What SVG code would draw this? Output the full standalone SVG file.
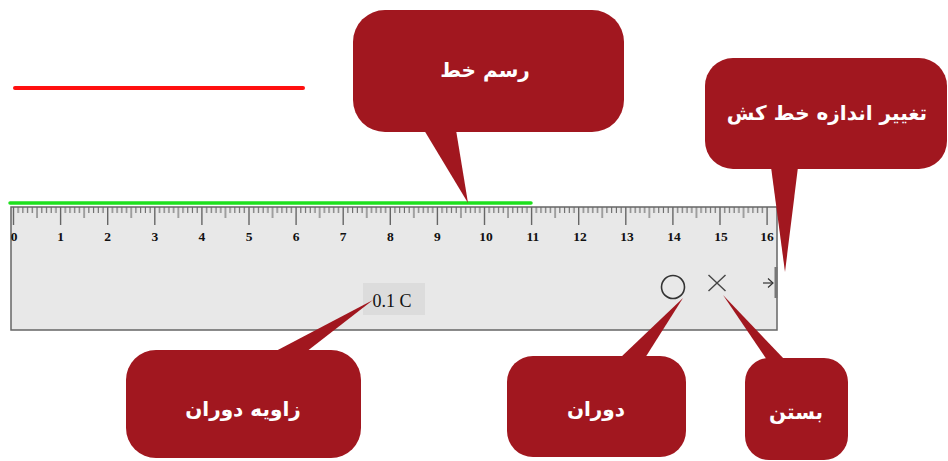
<svg xmlns="http://www.w3.org/2000/svg" width="948" height="461" viewBox="0 0 948 461">
<style>
.callout{fill:#A1171F}
.ctext{fill:#fff;font-family:"DejaVu Sans",sans-serif;font-weight:bold;font-size:20px;text-anchor:middle;dominant-baseline:central}
.num{font-family:"Liberation Serif",serif;font-weight:bold;font-size:13.5px;text-anchor:middle;fill:#111}
.tick{stroke:#666;stroke-width:1.1}
.major{stroke:#666;stroke-width:1.4}
</style>
<defs>
<pattern id="mm" patternUnits="userSpaceOnUse" x="12.5" y="207" width="47.1" height="20">
<g class="tick">
<line x1="5.71" y1="0" x2="5.71" y2="6"/>
<line x1="10.42" y1="0" x2="10.42" y2="6"/>
<line x1="15.13" y1="0" x2="15.13" y2="6"/>
<line x1="19.84" y1="0" x2="19.84" y2="6"/>
<line x1="24.55" y1="0" x2="24.55" y2="11"/>
<line x1="29.26" y1="0" x2="29.26" y2="6"/>
<line x1="33.97" y1="0" x2="33.97" y2="6"/>
<line x1="38.68" y1="0" x2="38.68" y2="6"/>
<line x1="43.39" y1="0" x2="43.39" y2="6"/>
</g>
</pattern>
</defs>
<rect width="948" height="461" fill="#fff"/>
<g id="red-line">
<line x1="15" y1="88" x2="303" y2="88" stroke="#FF1010" stroke-width="4" stroke-linecap="round"/>
</g>
<g id="ruler">
<rect x="11" y="207" width="766" height="123" fill="#E8E8E8" stroke="#666" stroke-width="1.5"/>
<rect x="13" y="207" width="756" height="20" fill="url(#mm)"/>
<g class="major">
<line x1="13.5" y1="207" x2="13.5" y2="225"/>
<line x1="60.6" y1="207" x2="60.6" y2="225"/>
<line x1="107.7" y1="207" x2="107.7" y2="225"/>
<line x1="154.8" y1="207" x2="154.8" y2="225"/>
<line x1="201.9" y1="207" x2="201.9" y2="225"/>
<line x1="249" y1="207" x2="249" y2="225"/>
<line x1="296.1" y1="207" x2="296.1" y2="225"/>
<line x1="343.2" y1="207" x2="343.2" y2="225"/>
<line x1="390.3" y1="207" x2="390.3" y2="225"/>
<line x1="437.4" y1="207" x2="437.4" y2="225"/>
<line x1="484.5" y1="207" x2="484.5" y2="225"/>
<line x1="531.6" y1="207" x2="531.6" y2="225"/>
<line x1="578.7" y1="207" x2="578.7" y2="225"/>
<line x1="625.8" y1="207" x2="625.8" y2="225"/>
<line x1="672.9" y1="207" x2="672.9" y2="225"/>
<line x1="720" y1="207" x2="720" y2="225"/>
<line x1="767.1" y1="207" x2="767.1" y2="225"/>
</g>
<g class="num">
<text x="14" y="241">0</text>
<text x="60.6" y="241">1</text>
<text x="107.7" y="241">2</text>
<text x="154.8" y="241">3</text>
<text x="201.9" y="241">4</text>
<text x="249" y="241">5</text>
<text x="296.1" y="241">6</text>
<text x="343.2" y="241">7</text>
<text x="390.3" y="241">8</text>
<text x="437.4" y="241">9</text>
<text x="486" y="241">10</text>
<text x="533" y="241">11</text>
<text x="580" y="241">12</text>
<text x="627" y="241">13</text>
<text x="674" y="241">14</text>
<text x="721" y="241">15</text>
<text x="767" y="241">16</text>
</g>
<rect x="363" y="283" width="62" height="32" fill="#DCDCDC"/>
<text x="392" y="307" font-family="Liberation Serif, serif" font-size="18" text-anchor="middle" fill="#111">0.1 C</text>
<circle cx="673" cy="287" r="11.5" fill="none" stroke="#333" stroke-width="1.6"/>
<g stroke="#444" stroke-width="1.4">
<line x1="708.5" y1="275" x2="725.5" y2="291"/>
<line x1="725.5" y1="275" x2="708.5" y2="291"/>
</g>
<line x1="776" y1="267" x2="776" y2="298" stroke="#777" stroke-width="3"/>
<g stroke="#333" stroke-width="1.2" fill="none">
<line x1="763" y1="283" x2="773" y2="283"/>
<polyline points="768,278.5 773,283 768,287.5"/>
</g>
</g>
<g id="green-line">
<line x1="10" y1="203" x2="531" y2="203" stroke="#1EE01E" stroke-width="3.5" stroke-linecap="round"/>
</g>
<g id="callout-draw">
<rect class="callout" x="353" y="10" width="271" height="122" rx="32"/>
<polygon class="callout" points="424,130 456,130 468,203"/>
<text class="ctext" x="485" y="70">رسم خط</text>
</g>
<g id="callout-resize">
<rect class="callout" x="705" y="58" width="242" height="111" rx="28"/>
<polygon class="callout" points="771,167 798,167 785,272"/>
<text class="ctext" x="827" y="113">تغییر اندازه خط کش</text>
</g>
<g id="callout-angle">
<rect class="callout" x="126" y="350" width="235" height="108" rx="30"/>
<polygon class="callout" points="274,352 306,352 373,300"/>
<text class="ctext" x="243" y="409">زاویه دوران</text>
</g>
<g id="callout-rotate">
<rect class="callout" x="507" y="356" width="179" height="101" rx="26"/>
<polygon class="callout" points="620,358 645,358 683,298"/>
<text class="ctext" x="596" y="409">دوران</text>
</g>
<g id="callout-close">
<rect class="callout" x="745" y="358" width="103" height="102" rx="24"/>
<polygon class="callout" points="767,360 785,360 723,295"/>
<text class="ctext" x="796" y="412">بستن</text>
</g>
</svg>
